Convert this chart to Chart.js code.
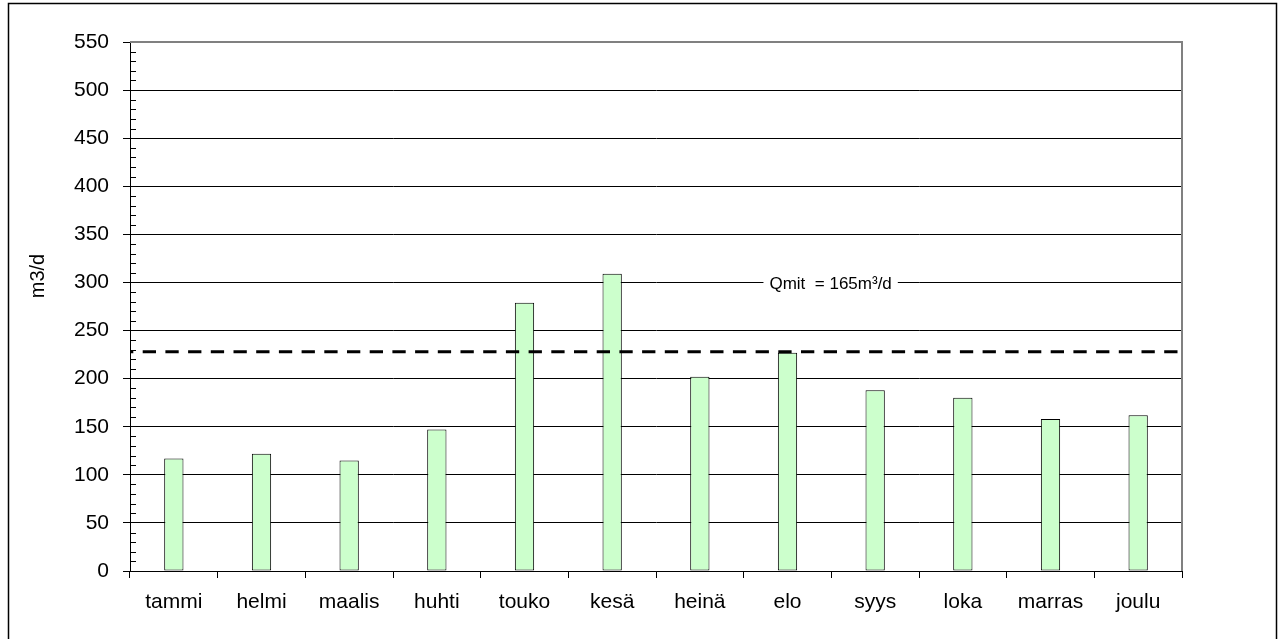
<!DOCTYPE html>
<html>
<head>
<meta charset="utf-8">
<script src="https://cdn.jsdelivr.net/npm/chart.js@4/dist/chart.umd.min.js"></script>
<style>
  html, body { margin: 0; padding: 0; background: #fff; }
  canvas { display: block; }
</style>
</head>
<body>
<canvas id="c" width="1280" height="639"></canvas>
<script>
// Monthly flow (m3/d)
const months = ['tammi', 'helmi', 'maalis', 'huhti', 'touko', 'kesä', 'heinä', 'elo', 'syys', 'loka', 'marras', 'joulu'];
const flow = [117, 122, 115, 147, 279, 309, 202, 227, 188, 180, 158, 162];

// Value axis
const yMin = 0;
const yMax = 550;
const yStep = 50;
const yMinorStep = 10;

// Reference level drawn as a dashed line
const dashedLevel = 228;

// Note placed on a gridline
const noteText = 'Qmit  = 165m³/d';
const noteLevel = 300;

const axisTitle = 'm3/d';
const FONT = '"Liberation Sans", Arial, sans-serif';

const decor = {
  id: 'decor',
  beforeDraw(chart) {
    const ctx = chart.ctx;
    ctx.save();
    ctx.fillStyle = '#fff';
    ctx.fillRect(0, 0, chart.width, chart.height);
    // outer frame
    ctx.strokeStyle = '#000';
    ctx.lineWidth = 1.5;
    ctx.strokeRect(8.5, 3.5, 1268, 700);
    ctx.restore();
  },
  afterDraw(chart) {
    const ctx = chart.ctx;
    const a = chart.chartArea;
    const y = chart.scales.y;
    ctx.save();

    // plot area top/right edge
    ctx.strokeStyle = '#808080';
    ctx.lineWidth = 2;
    ctx.beginPath();
    ctx.moveTo(a.left, a.top);
    ctx.lineTo(a.right, a.top);
    ctx.lineTo(a.right, a.bottom);
    ctx.stroke();

    // minor ticks inside the value axis
    ctx.strokeStyle = '#000';
    ctx.lineWidth = 1;
    ctx.beginPath();
    for (let v = yMin; v <= yMax; v += yMinorStep) {
      if (v % yStep === 0) continue;
      const py = Math.round(y.getPixelForValue(v)) + 0.5;
      ctx.moveTo(a.left, py);
      ctx.lineTo(a.left + 6, py);
    }
    ctx.stroke();

    // dashed reference line
    const dy = y.getPixelForValue(dashedLevel);
    ctx.strokeStyle = '#000';
    ctx.lineWidth = 3;
    ctx.setLineDash([13.3, 9.4]);
    ctx.lineDashOffset = 10;
    ctx.beginPath();
    ctx.moveTo(a.left, dy);
    ctx.lineTo(a.right, dy);
    ctx.stroke();
    ctx.setLineDash([]);

    // note on gridline
    const ny = y.getPixelForValue(noteLevel);
    const nx = a.left + (a.right - a.left) * 0.666;
    ctx.font = '17px ' + FONT;
    const w = ctx.measureText(noteText).width;
    ctx.fillStyle = '#fff';
    ctx.fillRect(nx - w / 2 - 6, ny - 10, w + 12, 20);
    ctx.fillStyle = '#000';
    ctx.textAlign = 'center';
    ctx.textBaseline = 'middle';
    ctx.fillText(noteText, nx, ny + 2);

    // value axis title
    ctx.translate(38, 276);
    ctx.rotate(-Math.PI / 2);
    ctx.font = '20px ' + FONT;
    ctx.fillText(axisTitle, 0, 0);
    ctx.restore();
  }
};

new Chart(document.getElementById('c'), {
  type: 'bar',
  data: {
    labels: months,
    datasets: [{
      data: flow,
      backgroundColor: '#CCFFCC',
      borderColor: '#000',
      borderWidth: 1,
      borderSkipped: false,
      barPercentage: 0.22,
      categoryPercentage: 1.0
    }]
  },
  options: {
    responsive: false,
    animation: false,
    devicePixelRatio: 1,
    layout: { padding: { left: 0, right: 98, top: 42, bottom: 0 } },
    plugins: { legend: { display: false }, tooltip: { enabled: false } },
    scales: {
      x: {
        afterFit(s) { s.height = 68; },
        grid: {
          offset: true,
          drawOnChartArea: false,
          drawTicks: true,
          tickLength: 7,
          color: '#000'
        },
        border: { color: '#000', width: 1 },
        ticks: {
          color: '#000',
          font: { family: FONT, size: 21 },
          padding: 12,
          maxRotation: 0
        }
      },
      y: {
        min: yMin,
        max: yMax,
        afterFit(s) { s.width = 130; },
        grid: {
          color: '#000',
          lineWidth: 1,
          drawTicks: true,
          tickLength: 7
        },
        border: { color: '#000', width: 1 },
        ticks: {
          stepSize: yStep,
          color: '#000',
          font: { family: FONT, size: 21 },
          padding: 14
        }
      }
    }
  },
  plugins: [decor]
});
</script>
</body>
</html>
